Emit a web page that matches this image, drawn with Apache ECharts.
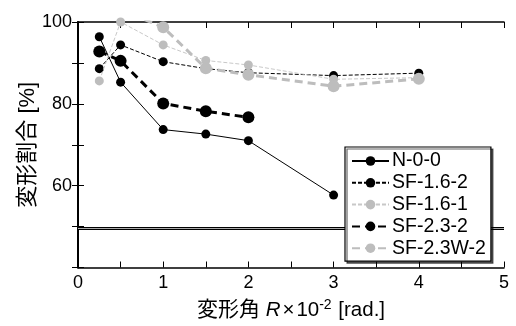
<!DOCTYPE html>
<html><head><meta charset="utf-8">
<script src="https://cdn.jsdelivr.net/npm/echarts@6/dist/echarts.min.js"></script>
<style>html,body{margin:0;padding:0;background:#fff}#c{width:516px;height:326px}</style>
</head><body><div id="c"></div>
<script>
const seriesNames = ['N-0-0', 'SF-1.6-2', 'SF-1.6-1', 'SF-2.3-2', 'SF-2.3W-2'];
const n00 = [[0.25, 96.4], [0.5, 85.3], [1, 73.7], [1.5, 72.6], [2, 71.0], [3, 57.7]];
const sf162 = [[0.25, 88.6], [0.5, 94.4], [1, 90.3], [1.5, 88.6], [2, 87.6], [3, 86.9], [4, 87.5]];
const sf161 = [[0.25, 85.6], [0.5, 100], [1, 94.4], [1.5, 90.6], [2, 89.5], [3, 86.0], [4, 86.4]];
const sf232 = [[0.25, 92.8], [0.5, 90.5], [1, 80.1], [1.5, 78.2], [2, 76.7]];
const sf23w2 = [[0.5, 103.0], [1, 98.7], [1.5, 88.7], [2, 87.1], [3, 84.3], [4, 86.1]];
const yTickLabels = [60, 80, 100];
const xTickLabels = [0, 1, 2, 3, 4, 5];
const breakBand = [49.25, 49.85];

const FONT = 'Liberation Sans, Arial, sans-serif';
const JFONT = 'Liberation Sans, Noto Sans CJK JP, sans-serif';
const chart = echarts.init(document.getElementById('c'), null, {renderer: 'canvas'});

function lineSeries(name, data, opt) {
  return Object.assign({
    name: name, type: 'line', data: data, symbol: 'circle',
    clip: true, animation: false
  }, opt);
}

chart.setOption({
  animation: false,
  grid: {left: 78, right: 12, top: 22, bottom: 57},
  legend: {
    z: 50, zlevel: 0,
    orient: 'vertical', left: 345, top: 147,
    data: seriesNames,
    itemWidth: 37, itemHeight: 12, itemGap: 1.8,
    padding: [4, 5, 3, 6],
    backgroundColor: '#fff', borderColor: '#000', borderWidth: 1.2,
    shadowColor: 'rgba(0,0,0,0.6)', shadowOffsetX: 2, shadowOffsetY: 2, shadowBlur: 0,
    textStyle: {fontFamily: FONT, fontSize: 19.5, lineHeight: 19, color: '#000', padding: [0, 0, 0, -2]}
  },
  xAxis: [{
    type: 'value', min: 0, max: 5, interval: 1,
    axisLine: {lineStyle: {color: '#000', width: 1.5}},
    axisTick: {inside: true, length: 6, lineStyle: {color: '#000', width: 1}},
    minorTick: {show: true, splitNumber: 2, length: 6, lineStyle: {color: '#000', width: 1}},
    splitLine: {show: false},
    axisLabel: {fontFamily: FONT, fontSize: 18, color: '#000', margin: 7,
      formatter: v => xTickLabels.indexOf(v) >= 0 ? String(v) : ''},
    name: '{j|変形角} {i|R}{t|×}10{sup|-2} [rad.]',
    nameLocation: 'middle', nameGap: 31, nameMoveOverlap: false,
    nameTextStyle: {fontFamily: FONT, fontSize: 20.5, color: '#000',
      rich: {
        j: {fontFamily: JFONT, fontSize: 21, color: '#000'},
        i: {fontFamily: FONT, fontStyle: 'italic', fontSize: 20.5, color: '#000', padding: [0, 2, 0, 0]},
        t: {fontFamily: FONT, fontSize: 20.5, color: '#000', padding: [0, 2, 0, 0]},
        sup: {fontFamily: FONT, fontSize: 14, color: '#000', padding: [0, 1, 10, 0]}
      }}
  }, {
    type: 'value', min: 0, max: 5, interval: 1, position: 'top',
    axisLine: {show: true, lineStyle: {color: '#000', width: 1.5}},
    axisTick: {show: true, inside: true, length: 6, lineStyle: {color: '#000', width: 1}},
    minorTick: {show: true, splitNumber: 2, length: 6, lineStyle: {color: '#000', width: 1}},
    axisLabel: {show: false}, splitLine: {show: false}
  }],
  yAxis: [{
    type: 'value', min: 40, max: 100, interval: 10,
    axisLine: {show: true, lineStyle: {color: '#000', width: 1.5}},
    axisTick: {show: true, inside: true, length: 6, lineStyle: {color: '#000', width: 1}},
    splitLine: {show: false},
    axisLabel: {fontFamily: FONT, fontSize: 18, color: '#000', margin: 6,
      formatter: v => yTickLabels.indexOf(v) >= 0 ? String(v) : ''},
    name: '変形割合 [%]', nameLocation: 'middle', nameGap: 39, nameRotate: 90,
    nameMoveOverlap: false,
    nameTextStyle: {fontFamily: JFONT, fontSize: 22, color: '#000'}
  }, {
    type: 'value', min: 40, max: 100, interval: 10, position: 'right',
    axisLine: {show: true, lineStyle: {color: '#000', width: 2}},
    axisTick: {show: true, inside: true, length: 6, lineStyle: {color: '#000', width: 1}},
    axisLabel: {show: false}, splitLine: {show: false}
  }],
  series: [
    lineSeries('N-0-0', n00, {
      z: 2, symbolSize: 9,
      lineStyle: {color: '#000', width: 1},
      itemStyle: {color: '#000'},
      markArea: {silent: true, itemStyle: {color: '#aaa'},
        data: [[{yAxis: breakBand[0]}, {yAxis: breakBand[1]}]]},
      markLine: {silent: true, symbol: 'none', label: {show: false},
        lineStyle: {color: '#000', width: 1, type: 'solid'},
        data: [{yAxis: breakBand[0]}, {yAxis: breakBand[1]}]}
    }),
    lineSeries('SF-1.6-2', sf162, {
      z: 3, symbolSize: 9,
      lineStyle: {color: '#000', width: 1, type: [4, 2]},
      itemStyle: {color: '#000'}
    }),
    lineSeries('SF-1.6-1', sf161, {
      z: 5, symbolSize: 9,
      lineStyle: {color: '#c8c8c8', width: 1, type: [4, 2]},
      itemStyle: {color: '#bdbdbd'}
    }),
    lineSeries('SF-2.3-2', sf232, {
      z: 4, symbolSize: 12,
      lineStyle: {color: '#000', width: 3, type: [8, 5]},
      itemStyle: {color: '#000'}
    }),
    lineSeries('SF-2.3W-2', sf23w2, {
      z: 6, symbolSize: 12,
      lineStyle: {color: '#bdbdbd', width: 3, type: [8, 5]},
      itemStyle: {color: '#bdbdbd'}
    })
  ]
});
</script>
</body></html>
